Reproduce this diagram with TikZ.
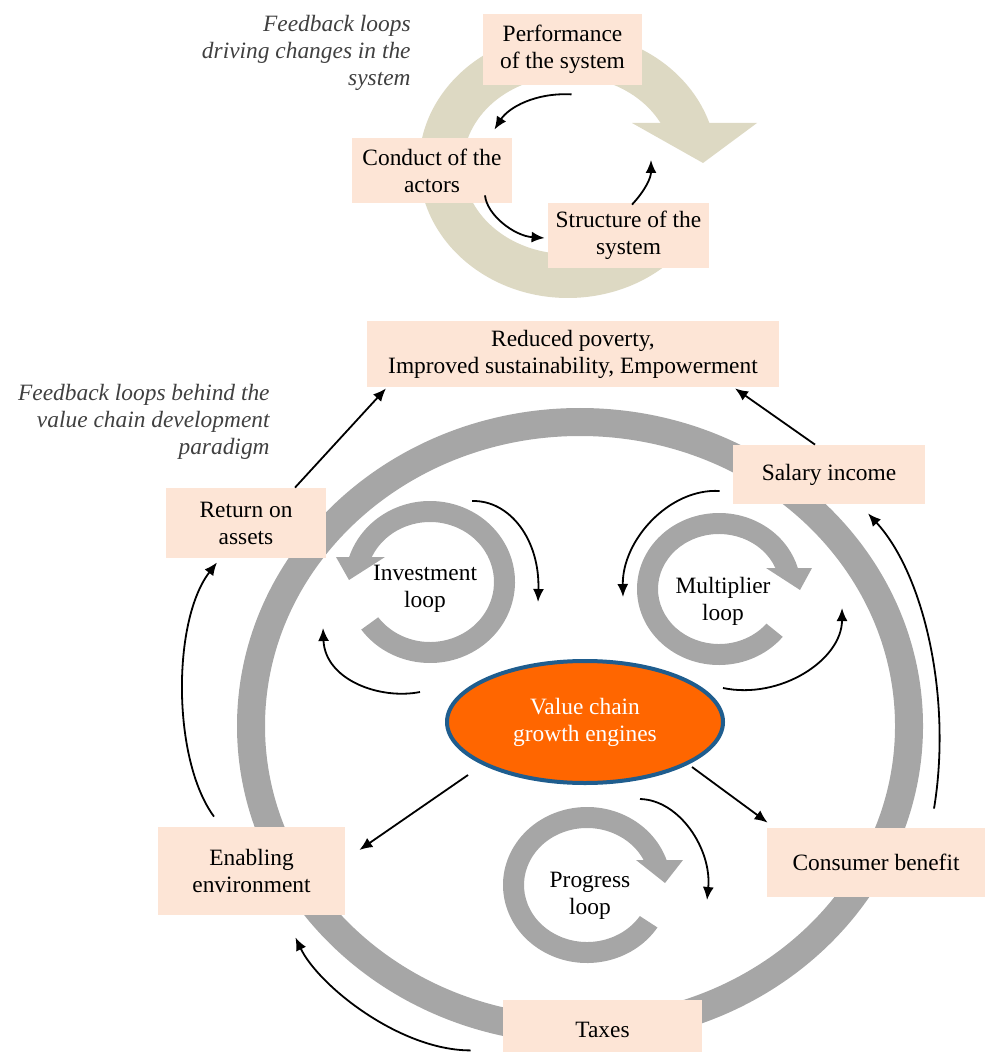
\documentclass[tikz,border=0pt]{standalone}
\usepackage{fontspec}
\setmainfont{Liberation Serif}
\usepackage{xcolor}
\usepackage{tikz}
\usetikzlibrary{shapes.geometric, arrows.meta, positioning, calc}

\definecolor{boxpeach}{HTML}{FDE5D6}
\definecolor{ringtan}{HTML}{DDD9C3}
\definecolor{ringgray}{HTML}{A6A6A6}
\definecolor{engineorange}{HTML}{FF6600}
\definecolor{engineblue}{HTML}{1F5D8E}

\begin{document}
\begin{tikzpicture}[
    x=0.5pt, y=-0.5pt,
    every node/.style={font=\fontsize{11.7}{13.5}\selectfont},
    box/.style={fill=boxpeach, inner sep=0pt, align=center},
    note/.style={align=right, inner sep=0pt, text=black!75, font=\fontsize{11.7}{13.5}\selectfont\itshape},
    loop_txt/.style={align=center, inner sep=0pt},
    engine/.style={ellipse, draw=engineblue, line width=2pt, fill=engineorange, text=white, align=center, inner sep=0pt, minimum width=138pt, minimum height=61pt},
    arrow/.style={-{Latex[length=6.5pt,width=5.5pt]}, line width=0.9pt}
]
    \useasboundingbox (0,0) rectangle (985,1052);

    % Top cycle: tan circular arrow
    \fill[ringtan] ({568+149*cos(40)},{165+133*sin(40)}) arc[start angle=40, end angle=341.59, x radius=149, y radius=133]
        -- ({568+105*cos(331.84)},{165+89*sin(331.84)}) arc[start angle=331.84, end angle=40, x radius=105, y radius=89] -- cycle;
    \fill[ringtan] (632,123) -- (757,123) -- (703,163) -- cycle;

    \node[box, minimum width=79.5pt, minimum height=35.5pt] (perf) at (562.5,49.5) {Performance\\of the system};
    \node[box, minimum width=80pt, minimum height=32.5pt] (conduct) at (432,170.5) {Conduct of the\\actors};
    \node[box, minimum width=80.5pt, minimum height=32.5pt] (structure) at (628.5,235.5) {Structure of the\\system};
    \node[note, anchor=north east] (top_note) at (411,15) {Feedback loops\\driving changes in the\\system};

    \coordinate (ring_in) at (651,160);
    \draw[arrow] ([shift={(9,9)}]perf.south) .. controls +(-36,-2) and +(14,-22) .. ([shift={(-18,-8)}]conduct.north east);
    \draw[arrow] ([shift={(53,-8)}]conduct.south) .. controls +(2,20) and +(-30,-2) .. ([shift={(-3,2.5)}]structure.west);
    \draw[arrow] ([shift={(3.5,2)}]structure.north) .. controls +(13,-14) and +(0,18) .. (ring_in);

    % Value chain: big gray ring and the three loops
    \draw[ringgray, line width=14pt] (580,726) ellipse[x radius=329, y radius=304];

    \fill[ringgray] ({430+85*cos(144)},{582+81*sin(144)}) arc[start angle=144, end angle=-162, x radius=85, y radius=81]
        -- ({430+64*cos(-155.4)},{582+60*sin(-155.4)}) arc[start angle=-155.4, end angle=144, x radius=64, y radius=60] -- cycle;
    \fill[ringgray] (336,557) -- (385,557) -- (349,580) -- cycle;

    \fill[ringgray] ({719+82*cos(39)},{589+76*sin(39)}) arc[start angle=39, end angle=344, x radius=82, y radius=76]
        -- ({719+61*cos(337.6)},{589+55*sin(337.6)}) arc[start angle=337.6, end angle=39, x radius=61, y radius=55] -- cycle;
    \fill[ringgray] (766,568) -- (812,568) -- (800,590) -- cycle;

    \fill[ringgray] ({587+84*cos(33)},{885+78*sin(33)}) arc[start angle=33, end angle=341.3, x radius=84, y radius=78]
        -- ({587+63*cos(334)},{885+57*sin(334)}) arc[start angle=334, end angle=33, x radius=63, y radius=57] -- cycle;
    \fill[ringgray] (636,860) -- (683,860) -- (665,883) -- cycle;

    \node[loop_txt] (inv_loop) at (425,589) {Investment\\loop};
    \node[loop_txt] (mul_loop) at (723,601) {Multiplier\\loop};
    \node[loop_txt] (prog_loop) at (590,896) {Progress\\loop};

    % Boxes
    \node[box, minimum width=206pt, minimum height=33pt] (red_pov) at (573,354) {Reduced poverty,\\Improved sustainability, Empowerment};
    \node[box, minimum width=80pt, minimum height=35pt] (ret_assets) at (246,523) {Return on\\assets};
    \node[box, minimum width=96pt, minimum height=29.5pt] (sal_inc) at (829,474.5) {Salary income};
    \node[box, minimum width=93.5pt, minimum height=44pt] (enab_env) at (251.5,871) {Enabling\\environment};
    \node[box, minimum width=109pt, minimum height=34.5pt] (cons_ben) at (876,862.5) {Consumer benefit};
    \node[box, minimum width=99.5pt, minimum height=30pt] (taxes) at (602.5,1030) {Taxes};
    \node[engine] (vce) at (585,722) {Value chain\\growth engines};
    \node[note, anchor=north east] (main_note) at (270,384) {Feedback loops behind the\\value chain development\\paradigm};

    % Connections
    \coordinate (inv_a) at (472,501);
    \coordinate (inv_b) at (538,602);
    \coordinate (inv_in) at (323,628);
    \coordinate (mul_in) at (623,597);
    \coordinate (mul_out) at (842,608);
    \coordinate (prog_in) at (707,900);

    \draw[arrow] ([shift={(49,0)}]ret_assets.north) -- ([shift={(-187,1)}]red_pov.south);
    \draw[arrow] ([shift={(-14,0)}]sal_inc.north) -- ([shift={(162,1)}]red_pov.south);
    \draw[arrow] ([shift={(-37.5,-10)}]enab_env.north) .. controls +(-42,-57) and +(-45,58) .. ([shift={(-29,4)}]ret_assets.south);
    \draw[arrow] ([shift={(-32,-10)}]taxes.south west) .. controls +(-71,0) and +(23,48) .. ([shift={(-50,22)}]enab_env.south east);
    \draw[arrow] ([shift={(58,-19)}]cons_ben.north) .. controls +(18,-109) and +(57,62) .. ([shift={(39,9)}]sal_inc.south);
    \draw[arrow] ([shift={(-117,53)}]vce.center) -- ([shift={(14,-21)}]enab_env.east);
    \draw[arrow] ([shift={(107,45)}]vce.center) -- ([shift={(1,-5)}]cons_ben.north west);
    \draw[arrow] ([shift={(-165,-30)}]vce.center) .. controls +(-40,8) and +(2,52) .. (inv_in);
    \draw[arrow] (inv_a) .. controls +(38,-1) and +(2,-62) .. (inv_b);
    \draw[arrow] ([shift={(-13,16.5)}]sal_inc.west) .. controls +(-50,-3) and +(-1,-57) .. (mul_in);
    \draw[arrow] ([shift={(138,-34)}]vce.center) .. controls +(57,12) and +(0,52) .. (mul_out);
    \draw[arrow] ([shift={(55,77)}]vce.center) .. controls +(40,1) and +(5,-50) .. (prog_in);

\end{tikzpicture}
\end{document}
